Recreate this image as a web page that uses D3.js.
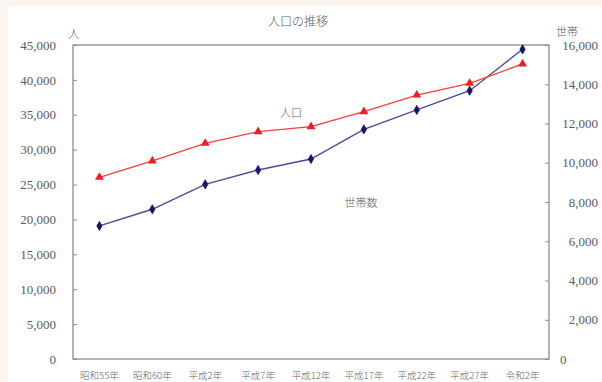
<!DOCTYPE html>
<html lang="ja">
<head>
<meta charset="utf-8">
<script src="https://cdn.jsdelivr.net/npm/d3@7"></script>
<style>
  html, body { margin: 0; padding: 0; background: #fcf4ee; }
  svg { display: block; }
</style>
</head>
<body>
<svg id="chart" width="602" height="382"></svg>
<script>
// 年次
const categories = ["昭和55年", "昭和60年", "平成2年", "平成7年", "平成12年", "平成17年", "平成22年", "平成27年", "令和2年"];
// 人口（人）
const population = [26040, 28380, 30910, 32580, 33290, 35440, 37830, 39510, 42280];
// 世帯数（世帯）
const households = [6780, 7630, 8900, 9630, 10190, 11700, 12690, 13670, 15780];
// 目盛
const leftTicks = [0, 5000, 10000, 15000, 20000, 25000, 30000, 35000, 40000, 45000];
const rightTicks = [0, 2000, 4000, 6000, 8000, 10000, 12000, 14000, 16000];

const JP = "'Noto Sans CJK JP', sans-serif";
const NUM = "'Liberation Serif', 'DejaVu Serif', serif";
const TEXT = "#5a5a5a";

const svg = d3.select("#chart");
const W = 602, H = 382;
const plot = { left: 73, right: 549, top: 45, bottom: 359 };

// 白いパネル
svg.append("rect")
  .attr("x", 8).attr("y", 6).attr("width", W - 8).attr("height", H - 6)
  .attr("rx", 3).attr("fill", "#ffffff");

const x = d3.scaleBand().domain(categories).range([plot.left, plot.right]);
const cx = d => x(d) + x.bandwidth() / 2;
const yL = d3.scaleLinear().domain([0, 45000]).range([plot.bottom, plot.top]);
const yR = d3.scaleLinear().domain([0, 16000]).range([plot.bottom, plot.top]);

// 左軸（人口）
const gL = svg.append("g").attr("transform", `translate(${plot.left},0)`)
  .call(d3.axisLeft(yL).tickValues(leftTicks).tickSize(-4).tickPadding(17).tickFormat(d3.format(",")));
gL.attr("font-family", null).attr("font-size", null);
gL.select(".domain").remove();
gL.selectAll(".tick line").attr("stroke", "#8c8c8c");
gL.selectAll(".tick text")
  .style("font-family", NUM).style("font-size", "13px").attr("fill", TEXT);

// 右軸（世帯数）
const gR = svg.append("g").attr("transform", `translate(${plot.right},0)`)
  .call(d3.axisRight(yR).tickValues(rightTicks).tickSize(-4).tickFormat(d3.format(",")));
gR.attr("font-family", null).attr("font-size", null);
gR.select(".domain").remove();
gR.selectAll(".tick line").attr("stroke", "#8c8c8c");
gR.selectAll(".tick text")
  .style("font-family", NUM).style("font-size", "13px").attr("fill", TEXT)
  .attr("text-anchor", d => d === 0 ? "start" : "end")
  .attr("x", d => d === 0 ? 11 : 49);

// 枠
svg.append("rect")
  .attr("x", plot.left).attr("y", plot.top)
  .attr("width", plot.right - plot.left).attr("height", plot.bottom - plot.top)
  .attr("fill", "none").attr("stroke", "#8c8c8c").attr("stroke-width", 1.3);

// 横軸ラベル
svg.append("g").selectAll("text").data(categories).join("text")
  .attr("x", d => cx(d)).attr("y", 379)
  .attr("text-anchor", "middle")
  .style("font-family", JP).style("font-size", "9.5px").style("font-weight", 300)
  .attr("fill", "#666")
  .text(d => d);

// 世帯数の折れ線
svg.append("path").datum(households)
  .attr("fill", "none").attr("stroke", "#4b4b98").attr("stroke-width", 1.4)
  .attr("d", d3.line().x((d, i) => cx(categories[i])).y(d => yR(d)));
svg.append("g").selectAll("path").data(households).join("path")
  .attr("transform", (d, i) => `translate(${cx(categories[i])},${yR(d)})`)
  .attr("d", d3.symbol(d3.symbolDiamond, 24))
  .attr("fill", "#14146a").attr("stroke", "#14146a").attr("stroke-width", 0.8)
  .attr("stroke-linejoin", "round");

// 人口の折れ線
svg.append("path").datum(population)
  .attr("fill", "none").attr("stroke", "#ff3b3b").attr("stroke-width", 1.3)
  .attr("d", d3.line().x((d, i) => cx(categories[i])).y(d => yL(d)));
svg.append("g").selectAll("path").data(population).join("path")
  .attr("transform", (d, i) => `translate(${cx(categories[i])},${yL(d)})`)
  .attr("d", d3.symbol(d3.symbolTriangle, 34))
  .attr("fill", "#ee1c24");

// タイトル・単位・系列名
const label = (tx, ty, size, str, anchor) => svg.append("text")
  .attr("x", tx).attr("y", ty).attr("text-anchor", anchor || "start")
  .style("font-family", JP).style("font-size", size + "px").style("font-weight", 300)
  .attr("fill", TEXT).text(str);
label(298, 26, 12, "人口の推移", "middle");
label(68, 38, 11.5, "人");
label(556, 36, 11, "世帯");
label(291, 117, 11, "人口", "middle");
label(361, 207, 11, "世帯数", "middle");
</script>
</body>
</html>
